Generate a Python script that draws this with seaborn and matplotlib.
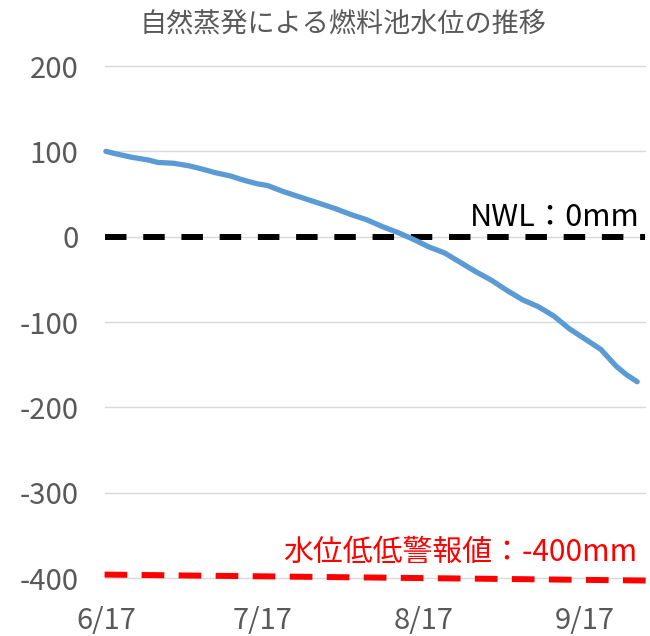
import pandas as pd
import numpy as np
import matplotlib
matplotlib.use("Agg")
import matplotlib.pyplot as plt
import seaborn as sns

# 1. DATA
dates = ["2021-06-17", "2021-06-19", "2021-06-22", "2021-06-25", "2021-06-27",
         "2021-06-30", "2021-07-03", "2021-07-05", "2021-07-08", "2021-07-11",
         "2021-07-13", "2021-07-16", "2021-07-18", "2021-07-21", "2021-07-24",
         "2021-07-27", "2021-07-31", "2021-08-03", "2021-08-06", "2021-08-09",
         "2021-08-12", "2021-08-15", "2021-08-18", "2021-08-21", "2021-08-24",
         "2021-08-27", "2021-08-30", "2021-09-02", "2021-09-05", "2021-09-08",
         "2021-09-11", "2021-09-14", "2021-09-17", "2021-09-20", "2021-09-23",
         "2021-09-25", "2021-09-27"]
level_mm = [100, 97, 93, 90, 87,
            86, 83, 80, 75, 71,
            67, 62, 60, 53, 47,
            41, 33, 26, 20, 12,
            5, -3, -12, -19, -30,
            -41, -51, -63, -74, -82,
            -93, -108, -120, -132, -152,
            -162, -170]

ref_dates = ["2021-06-16 20:00", "2021-09-28 12:00"]
nwl_values = [0, 0]
alarm_dates = ["2021-06-16 18:00", "2021-09-29 00:00"]
alarm_values = [-396, -403]

tick_dates = ["2021-06-17", "2021-07-17", "2021-08-17", "2021-09-17"]
y_ticks = [-400, -300, -200, -100, 0, 100, 200]

title = "自然蒸発による燃料池水位の推移"
nwl_label = "NWL：0mm"
alarm_label = "水位低低警報値：-400mm"

df = pd.DataFrame({"date": pd.to_datetime(dates), "level": level_mm})
df_nwl = pd.DataFrame({"date": pd.to_datetime(ref_dates), "level": nwl_values})
df_alarm = pd.DataFrame({"date": pd.to_datetime(alarm_dates), "level": alarm_values})

# 2. STYLE
sns.set_theme(style="white")
plt.rcParams['font.family'] = ['Noto Sans CJK JP', 'DejaVu Sans']
grey = "#595959"

fig = plt.figure(figsize=(6.5, 6.36), dpi=100)
ax = fig.add_axes([105 / 650, 1 - 578 / 636, 540 / 650, 512 / 636])

# gridlines
for y in y_ticks:
    ax.axhline(y, color="#D9D9D9", lw=1.0, zorder=0)

sns.lineplot(data=df, x="date", y="level", ax=ax, color="#5B9BD5",
             lw=3.8, zorder=3, solid_capstyle="round")
sns.lineplot(data=df_nwl, x="date", y="level", ax=ax, color="black",
             lw=4.3, linestyle=(0, (3.6, 2.8)), zorder=2)
sns.lineplot(data=df_alarm, x="date", y="level", ax=ax, color="#FF0000",
             lw=4.3, linestyle=(0, (3.8, 2.4)), zorder=2)
for line in ax.get_lines():
    line.set_clip_on(False)

ax.set_xlim(pd.Timestamp("2021-06-16 20:00"), pd.Timestamp("2021-09-28 12:00"))
ax.set_ylim(-400, 200)
ax.set_yticks(y_ticks)
ax.set_yticklabels([str(v) for v in y_ticks])
ticks = pd.to_datetime(tick_dates)
ax.set_xticks(ticks)
ax.set_xticklabels([f"{d.month}/{d.day}" for d in ticks])
ax.tick_params(axis="y", length=0, pad=19, labelsize=21, labelcolor=grey)
ax.tick_params(axis="x", length=0, pad=20, labelsize=21, labelcolor=grey)
ax.set_xlabel("")
ax.set_ylabel("")
for s in ax.spines.values():
    s.set_visible(False)

ax.annotate(nwl_label, xy=(0.99, 22), xycoords=("axes fraction", "data"),
            ha="right", va="center", fontsize=22, color="black")
ax.annotate(alarm_label, xy=(0.985, -370), xycoords=("axes fraction", "data"),
            ha="right", va="center", fontsize=21.5, color="#FF0000")

fig.text(343 / 650, 1 - 24 / 636, title, ha="center", va="center",
         fontsize=19.5, color=grey)

fig.savefig("out.png", dpi=100)
